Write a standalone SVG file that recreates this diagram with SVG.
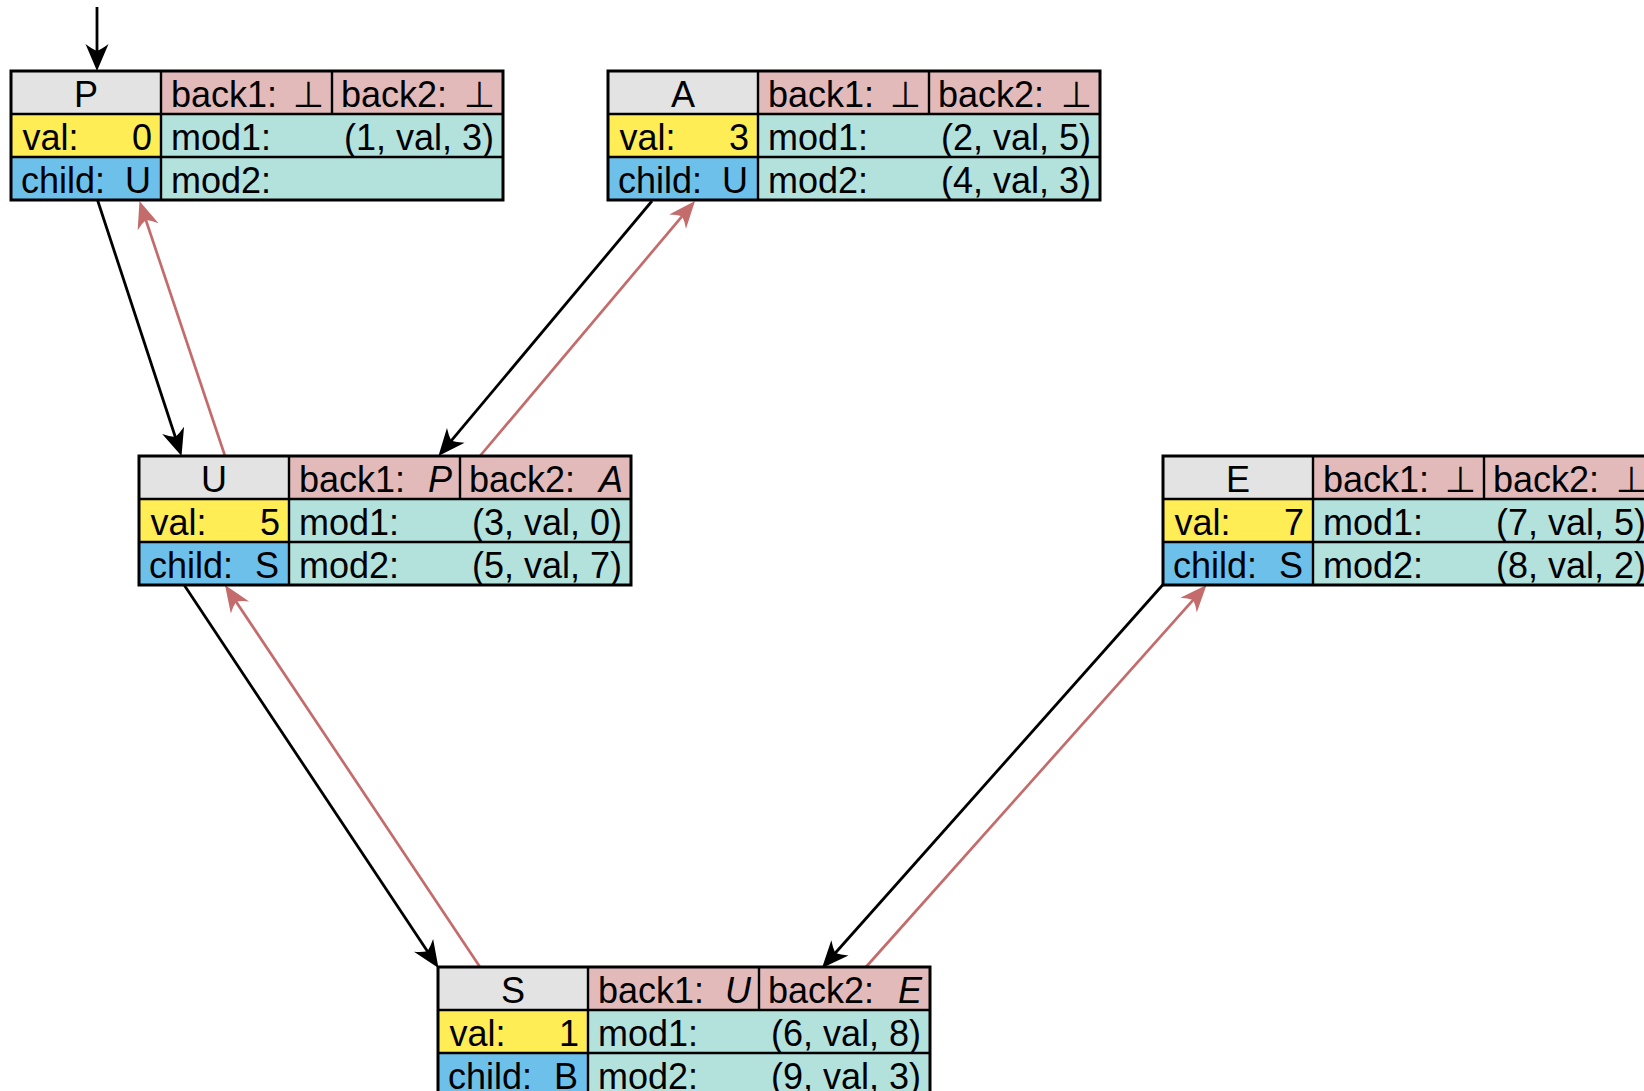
<svg xmlns="http://www.w3.org/2000/svg" width="1644" height="1091" viewBox="0 0 1644 1091">
<style>
text{font-family:"Liberation Sans","DejaVu Sans",sans-serif;font-size:36px;fill:#000}
.e{text-anchor:end}
.m{text-anchor:middle}
.i{font-style:italic}
.hd{fill:#e3e3e3}
.bk{fill:#e2baba}
.vl{fill:#ffed55}
.ch{fill:#6cc0ea}
.md{fill:#b3e1dc}
.ln{stroke:#000;stroke-width:2.4;fill:none}
.ol{stroke:#000;stroke-width:3;fill:none}
.cb{stroke:#000;stroke-width:2.8;fill:none}
.cr{stroke:#c46b6b;stroke-width:2.7;fill:none}
</style>
<defs>
<marker id="ab" markerUnits="userSpaceOnUse" markerWidth="50" markerHeight="50" viewBox="-25 -25 50 50" refX="0" refY="0" orient="auto">
<path d="M11,0 L-16,-11.5 Q-11,-5 -9,0 Q-11,5 -16,11.5 Z" fill="#000"/>
</marker>
<marker id="ar" markerUnits="userSpaceOnUse" markerWidth="50" markerHeight="50" viewBox="-25 -25 50 50" refX="0" refY="0" orient="auto">
<path d="M11,0 L-16,-11 Q-11,-5 -9,0 Q-11,5 -16,11 Z" fill="#c46b6b"/>
</marker>
<g id="frame">
<rect class="hd" x="0" y="0" width="150" height="43"/>
<rect class="bk" x="150" y="0" width="342" height="43"/>
<rect class="vl" x="0" y="43" width="150" height="43"/>
<rect class="md" x="150" y="43" width="342" height="86"/>
<rect class="ch" x="0" y="86" width="150" height="43"/>
<path class="ln" d="M0,43H492M0,86H492M150,0V129M321,0V43"/>
<rect class="ol" x="0" y="0" width="492" height="129"/>
</g>
</defs>

<g id="connectors">
<line class="cb" x1="97" y1="7" x2="97" y2="60" marker-end="url(#ab)"/>
<line class="cb" x1="97.5" y1="200" x2="178.1" y2="445.5" marker-end="url(#ab)"/>
<line class="cr" x1="225" y1="456" x2="143" y2="211.5" marker-end="url(#ar)"/>
<line class="cb" x1="652" y1="201" x2="445.5" y2="447.6" marker-end="url(#ab)"/>
<line class="cr" x1="480" y1="456" x2="687.9" y2="209.4" marker-end="url(#ar)"/>
<line class="cb" x1="183.5" y1="584" x2="432.4" y2="958.8" marker-end="url(#ab)"/>
<line class="cr" x1="480" y1="967" x2="231.1" y2="594.2" marker-end="url(#ar)"/>
<line class="cb" x1="1163.5" y1="584" x2="829.3" y2="959.8" marker-end="url(#ab)"/>
<line class="cr" x1="866" y1="967" x2="1199.2" y2="593.2" marker-end="url(#ar)"/>
</g>

<g id="node-P" transform="translate(11,71)">
<use href="#frame"/>
<text class="m" x="75" y="36">P</text>
<text x="160" y="36">back1:</text><text class="e" x="313" y="36">⊥</text>
<text x="330" y="36">back2:</text><text class="e" x="484" y="36">⊥</text>
<text x="11.5" y="79">val:</text><text class="e" x="141" y="79">0</text>
<text x="10" y="122">child:</text><text class="e" x="140" y="122">U</text>
<text x="160" y="79">mod1:</text><text class="e" x="483" y="79">(1, val, 3)</text>
<text x="160" y="122">mod2:</text>
</g>

<g id="node-A" transform="translate(608,71)">
<use href="#frame"/>
<text class="m" x="75" y="36">A</text>
<text x="160" y="36">back1:</text><text class="e" x="313" y="36">⊥</text>
<text x="330" y="36">back2:</text><text class="e" x="484" y="36">⊥</text>
<text x="11.5" y="79">val:</text><text class="e" x="141" y="79">3</text>
<text x="10" y="122">child:</text><text class="e" x="140" y="122">U</text>
<text x="160" y="79">mod1:</text><text class="e" x="483" y="79">(2, val, 5)</text>
<text x="160" y="122">mod2:</text><text class="e" x="483" y="122">(4, val, 3)</text>
</g>

<g id="node-U" transform="translate(139,456)">
<use href="#frame"/>
<text class="m" x="75" y="36">U</text>
<text x="160" y="36">back1:</text><text class="e i" x="313" y="36">P</text>
<text x="330" y="36">back2:</text><text class="e i" x="484" y="36">A</text>
<text x="11.5" y="79">val:</text><text class="e" x="141" y="79">5</text>
<text x="10" y="122">child:</text><text class="e" x="140" y="122">S</text>
<text x="160" y="79">mod1:</text><text class="e" x="483" y="79">(3, val, 0)</text>
<text x="160" y="122">mod2:</text><text class="e" x="483" y="122">(5, val, 7)</text>
</g>

<g id="node-E" transform="translate(1163,456)">
<use href="#frame"/>
<text class="m" x="75" y="36">E</text>
<text x="160" y="36">back1:</text><text class="e" x="313" y="36">⊥</text>
<text x="330" y="36">back2:</text><text class="e" x="484" y="36">⊥</text>
<text x="11.5" y="79">val:</text><text class="e" x="141" y="79">7</text>
<text x="10" y="122">child:</text><text class="e" x="140" y="122">S</text>
<text x="160" y="79">mod1:</text><text class="e" x="483" y="79">(7, val, 5)</text>
<text x="160" y="122">mod2:</text><text class="e" x="483" y="122">(8, val, 2)</text>
</g>

<g id="node-S" transform="translate(438,967)">
<use href="#frame"/>
<text class="m" x="75" y="36">S</text>
<text x="160" y="36">back1:</text><text class="e i" x="313" y="36">U</text>
<text x="330" y="36">back2:</text><text class="e i" x="484" y="36">E</text>
<text x="11.5" y="79">val:</text><text class="e" x="141" y="79">1</text>
<text x="10" y="122">child:</text><text class="e" x="140" y="122">B</text>
<text x="160" y="79">mod1:</text><text class="e" x="483" y="79">(6, val, 8)</text>
<text x="160" y="122">mod2:</text><text class="e" x="483" y="122">(9, val, 3)</text>
</g>
</svg>
